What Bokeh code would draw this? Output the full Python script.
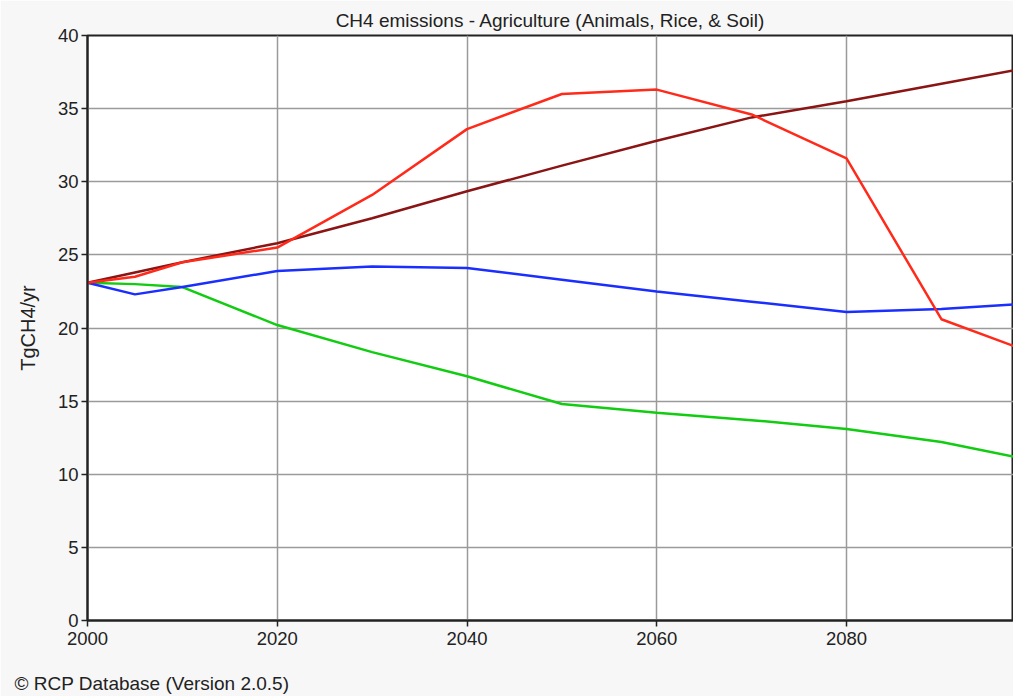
from bokeh.plotting import figure
from bokeh.models import Range1d, FixedTicker, Title
from bokeh.embed import file_html
from bokeh.resources import INLINE

years = [2000, 2005, 2010, 2020, 2030, 2040, 2050, 2060, 2070, 2080, 2090, 2100]
series_red = [23.1, 23.5, 24.5, 25.5, 29.1, 33.6, 36.0, 36.3, 34.6, 31.6, 20.6, 18.2]
series_brown = [23.1, 23.8, 24.5, 25.8, 27.5, 29.35, 31.1, 32.8, 34.4, 35.5, 36.7, 37.9]
series_blue = [23.1, 22.3, 22.8, 23.9, 24.2, 24.1, 23.3, 22.5, 21.8, 21.1, 21.3, 21.7]
series_green = [23.1, 23.0, 22.8, 20.2, 18.35, 16.7, 14.8, 14.2, 13.7, 13.1, 12.2, 10.9]
x_ticks = [2000, 2020, 2040, 2060, 2080]
y_ticks = [0, 5, 10, 15, 20, 25, 30, 35, 40]

title_text = "CH4 emissions - Agriculture (Animals, Rice, & Soil)"
y_label = "TgCH4/yr"
credit = "\u00a9 RCP Database (Version 2.0.5)"

FONT = "Liberation Sans"

p = figure(width=1013, height=696, output_backend="svg", toolbar_location=None,
           x_range=Range1d(2000, 2097.6), y_range=Range1d(0, 40),
           min_border_left=87, min_border_right=0, min_border_top=35, min_border_bottom=76)

p.title.text = title_text
p.title.align = "center"
p.title.offset = 10
p.title.text_font = FONT
p.title.text_font_size = "19px"
p.title.text_font_style = "normal"
p.title.text_color = "#222222"
p.title.standoff = 10

p.background_fill_color = "white"
p.border_fill_color = "#f7f7f7"
p.outline_line_color = "#222222"
p.outline_line_width = 2

p.xaxis.ticker = FixedTicker(ticks=x_ticks)
p.yaxis.ticker = FixedTicker(ticks=y_ticks)
for ax in (p.xaxis, p.yaxis):
    ax.axis_line_color = "#222222"
    ax.axis_line_width = 2
    ax.major_tick_line_color = "#222222"
    ax.major_tick_line_width = 1.5
    ax.major_tick_out = 6
    ax.major_tick_in = 0
    ax.minor_tick_line_color = None
    ax.major_label_text_font = FONT
    ax.major_label_text_font_size = "18.5px"
    ax.major_label_text_color = "#222222"
p.xaxis.major_label_standoff = 5
p.yaxis.major_label_standoff = 3
p.yaxis.axis_label = y_label
p.yaxis.axis_label_text_font = FONT
p.yaxis.axis_label_text_font_size = "20px"
p.yaxis.axis_label_text_font_style = "normal"
p.yaxis.axis_label_text_color = "#222222"
p.yaxis.axis_label_standoff = 16

p.xgrid.ticker = FixedTicker(ticks=x_ticks)
p.ygrid.ticker = FixedTicker(ticks=y_ticks)
p.grid.grid_line_color = "#9a9a9a"
p.grid.grid_line_width = 1.5

p.line(years, series_green, line_color="#11cc11", line_width=2.5)
p.line(years, series_blue, line_color="#1a2eff", line_width=2.5)
p.line(years, series_brown, line_color="#8b1414", line_width=2.5)
p.line(years, series_red, line_color="#ff2a1a", line_width=2.5)

spacer = Title(text=" ", text_font=FONT, text_font_size="19px", standoff=0)
p.add_layout(spacer, "below")
cap = Title(text=credit, align="left", text_font=FONT, text_font_size="19px",
            text_font_style="normal", text_color="#222222", offset=-73, standoff=0)
p.add_layout(cap, "below")

open("out.html", "w").write(file_html(p, INLINE))
